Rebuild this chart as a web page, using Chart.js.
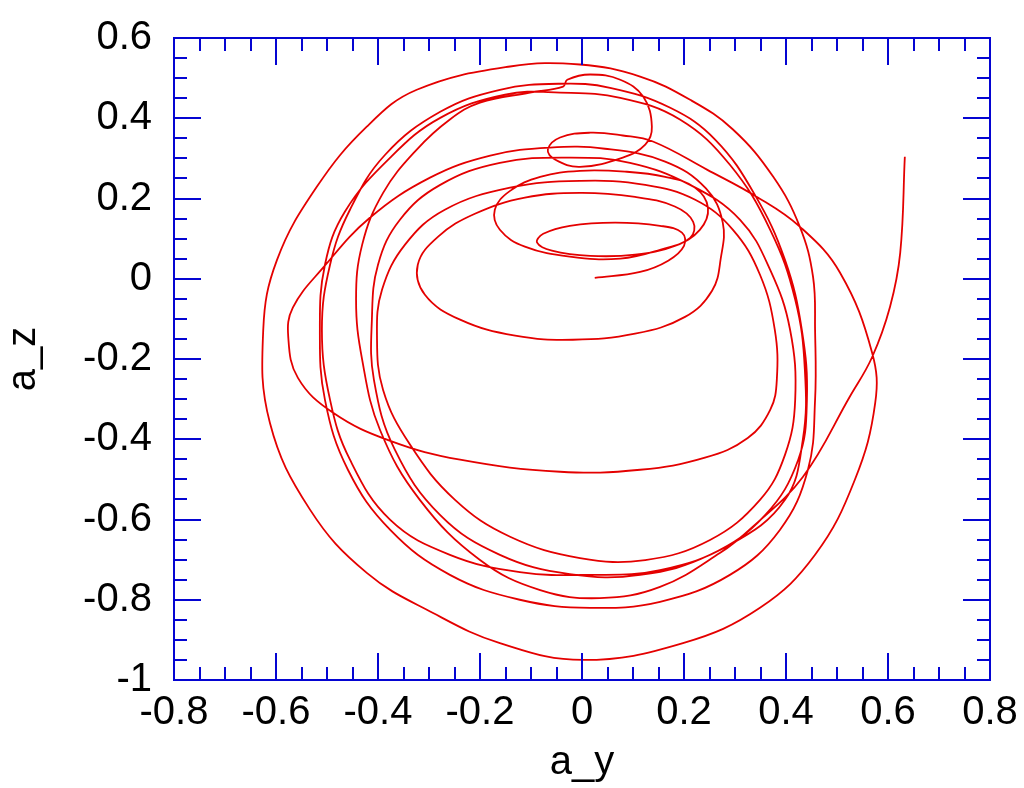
<!DOCTYPE html>
<html>
<head>
<meta charset="utf-8">
<title>a_y / a_z</title>
<script src="https://cdn.jsdelivr.net/npm/chart.js@4.4.0/dist/chart.umd.min.js"></script>
<style>
	html, body { margin: 0; padding: 0; background: #fff; }
	#box { width: 1024px; height: 788px; }
</style>
</head>
<body>
<div id="box"><canvas id="chartPath"></canvas></div>
<script>
// trajectory (a_y horizontal, a_z vertical)
var ay = [
	0.025, 0.114, 0.169, 0.200, 0.196, 0.153, 0.065, -0.024, -0.076, -0.088, -0.059, 0.016,
	0.104, 0.182, 0.231, 0.247, 0.222, 0.163, 0.084, -0.004, -0.082, -0.141, -0.171, -0.161, -0.112, -0.024, 0.075,
	0.153, 0.212, 0.218, 0.182, 0.104, -0.004, -0.112, -0.210, -0.282, -0.322, -0.308, -0.239, -0.131, -0.018, 0.104, 0.202, 0.255, 0.272,
	0.276, 0.243, 0.163, 0.045, -0.063, -0.180, -0.298, -0.416, -0.508, -0.567, -0.576, -0.557, -0.488, -0.376, -0.239, -0.043, 0.114, 0.241, 0.325, 0.369,
	0.382, 0.378, 0.349, 0.296, 0.222, 0.124, -0.004, -0.141, -0.269, -0.347, -0.392, -0.402, -0.390, -0.337, -0.249, -0.141, -0.004, 0.124, 0.251, 0.349, 0.398,
	0.418, 0.408, 0.369, 0.310, 0.212, 0.094, -0.024, -0.161, -0.278, -0.357, -0.400, -0.412, -0.408, -0.367, -0.278, -0.161, -0.024, 0.114, 0.251, 0.359, 0.424,
	0.441, 0.431, 0.398, 0.339, 0.261, 0.173, 0.055, -0.043, -0.161, -0.278, -0.386, -0.455, -0.494, -0.510, -0.494, -0.455, -0.376, -0.259, -0.122, 0.016, 0.153, 0.290, 0.398,
	0.433, 0.437, 0.418, 0.369, 0.290, 0.192, 0.075, -0.043, -0.151, -0.278, -0.376, -0.465, -0.504, -0.514, -0.504, -0.459, -0.376, -0.259, -0.122, 0.016, 0.153, 0.290, 0.388, 0.443,
	0.457, 0.457, 0.453, 0.427, 0.375, 0.296, 0.212, 0.114, -0.004, -0.141, -0.324, -0.422, -0.520, -0.598, -0.625, -0.612, -0.533, -0.422, -0.292, -0.161, 0.002, 0.198, 0.349, 0.457, 0.535, 0.575, 0.569, 0.506, 0.427, 0.343, 0.245, 0.139,
	0.080, 0.016, -0.043, -0.067, -0.053, -0.004, 0.080, 0.124, 0.137, 0.120, 0.075, 0.016, -0.029, -0.037,
	-0.102, -0.200, -0.259, -0.324, -0.390, -0.431, -0.443, -0.431, -0.396, -0.318, -0.200, -0.082, 0.035, 0.153, 0.271, 0.335, 0.433, 0.525, 0.569, 0.604, 0.624, 0.633
];
var az = [
	0.002, 0.017, 0.045, 0.082, 0.115, 0.132, 0.140, 0.132, 0.112, 0.090, 0.070, 0.057,
	0.060, 0.082, 0.122, 0.177, 0.227, 0.254, 0.267, 0.269, 0.254, 0.219, 0.172, 0.122, 0.080, 0.055, 0.050,
	0.072, 0.102, 0.142, 0.180, 0.204, 0.214, 0.202, 0.162, 0.105, 0.035, -0.040, -0.102, -0.142, -0.152, -0.137, -0.095, -0.030, 0.050,
	0.140, 0.225, 0.292, 0.324, 0.327, 0.307, 0.252, 0.152, 0.027, -0.072, -0.145, -0.247, -0.334, -0.404, -0.451, -0.481, -0.476, -0.446, -0.397, -0.327,
	-0.252, -0.127, 0.010, 0.122, 0.197, 0.234, 0.244, 0.227, 0.172, 0.085, -0.027, -0.140, -0.277, -0.414, -0.551, -0.643, -0.696, -0.701, -0.651, -0.551, -0.439,
	-0.302, -0.127, 0.022, 0.147, 0.234, 0.289, 0.302, 0.289, 0.234, 0.147, 0.035, -0.102, -0.252, -0.426, -0.589, -0.688, -0.736, -0.738, -0.688, -0.589, -0.451,
	-0.302, -0.127, 0.047, 0.209, 0.347, 0.426, 0.476, 0.486, 0.471, 0.416, 0.309, 0.172, 0.035, -0.127, -0.302, -0.451, -0.601, -0.688, -0.731, -0.738, -0.726, -0.663, -0.551,
	-0.401, -0.227, -0.052, 0.122, 0.284, 0.397, 0.451, 0.464, 0.459, 0.401, 0.302, 0.167, 0.035, -0.127, -0.302, -0.476, -0.626, -0.738, -0.800, -0.820, -0.805, -0.738, -0.626, -0.476,
	-0.302, -0.127, 0.005, 0.130, 0.254, 0.372, 0.446, 0.504, 0.534, 0.529, 0.471, 0.379, 0.229, 0.047, -0.127, -0.359, -0.576, -0.733, -0.833, -0.908, -0.950, -0.908, -0.820, -0.688, -0.501, -0.309, -0.185, 0.015, 0.130, 0.204, 0.272, 0.342,
	0.357, 0.364, 0.352, 0.322, 0.297, 0.279, 0.302, 0.334, 0.379, 0.454, 0.496, 0.509, 0.496, 0.479,
	0.464, 0.439, 0.397, 0.322, 0.214, 0.085, -0.052, -0.202, -0.377, -0.551, -0.701, -0.776, -0.796, -0.768, -0.683, -0.618, -0.494, -0.294, -0.195, -0.070, 0.065, 0.304
];
var xTicks = [-0.8, -0.6, -0.4, -0.2, 0, 0.2, 0.4, 0.6, 0.8];
var yTicks = [-1, -0.8, -0.6, -0.4, -0.2, 0, 0.2, 0.4, 0.6];

var blue = 'rgb(5,5,210)';
var red = 'rgb(228,0,0)';
var face = 'Liberation Sans, Arial, sans-serif';

var pts = [];
for (var i = 0; i < ay.length; i++) pts.push({x: ay[i], y: az[i]});

function fmt(v){ return String(Math.round(v * 10) / 10); }

// frame with inward major/minor ticks on all four sides
var frame = {
	id: 'frame',
	afterDraw: function(chart){
		var c = chart.ctx, a = chart.chartArea;
		var sx = chart.scales.x, sy = chart.scales.y;
		c.save();
		c.strokeStyle = blue;
		c.lineWidth = 2;
		c.strokeRect(a.left, a.top, a.right - a.left, a.bottom - a.top);
		c.beginPath();
		var k, p, len;
		for (k = -16; k <= 16; k++) {
			p = Math.round(sx.getPixelForValue(k * 0.05));
			len = (k % 4 === 0) ? 27 : 13;
			c.moveTo(p, a.bottom); c.lineTo(p, a.bottom - len);
			c.moveTo(p, a.top); c.lineTo(p, a.top + len);
		}
		for (k = -20; k <= 12; k++) {
			p = Math.round(sy.getPixelForValue(k * 0.05));
			len = (k % 4 === 0) ? 27 : 13;
			c.moveTo(a.left, p); c.lineTo(a.left + len, p);
			c.moveTo(a.right, p); c.lineTo(a.right - len, p);
		}
		c.stroke();
		c.restore();
	}
};

var ctx = document.getElementById('chartPath').getContext('2d');
var chart = new Chart(ctx, {
	type: 'scatter',
	data: {
		datasets: [{
			data: pts,
			showLine: true,
			borderColor: red,
			borderWidth: 1.8,
			pointRadius: 0,
			tension: 0.4,
			fill: false
		}]
	},
	options: {
		responsive: true,
		maintainAspectRatio: false,
		animation: false,
		layout: { padding: { left: 0, right: 34, top: 38, bottom: 0 } },
		plugins: { legend: { display: false }, tooltip: { enabled: false } },
		scales: {
			x: {
				type: 'linear', min: -0.8, max: 0.8,
				afterBuildTicks: function(s){ s.ticks = xTicks.map(function(v){ return {value: v}; }); },
				afterFit: function(s){ s.height = 108; s.paddingLeft = 0; s.paddingRight = 0; },
				grid: { display: false, drawTicks: false },
				border: { display: false },
				ticks: { color: '#000', padding: 9, maxRotation: 0, font: { family: face, size: 40 }, callback: fmt },
				title: { display: true, text: 'a_y', color: '#000', padding: { top: 0, bottom: 1 }, font: { family: face, size: 40 } }
			},
			y: {
				type: 'linear', min: -1, max: 0.6,
				afterBuildTicks: function(s){ s.ticks = yTicks.map(function(v){ return {value: v}; }); },
				afterFit: function(s){ s.width = 174; s.paddingTop = 0; s.paddingBottom = 0; },
				grid: { display: false, drawTicks: false },
				border: { display: false },
				ticks: { color: '#000', padding: 22, font: { family: face, size: 40 }, callback: fmt },
				title: { display: true, text: 'a_z', color: '#000', padding: { top: 0, bottom: 6 }, font: { family: face, size: 40 } }
			}
		}
	},
	plugins: [frame]
});
</script>
</body>
</html>
